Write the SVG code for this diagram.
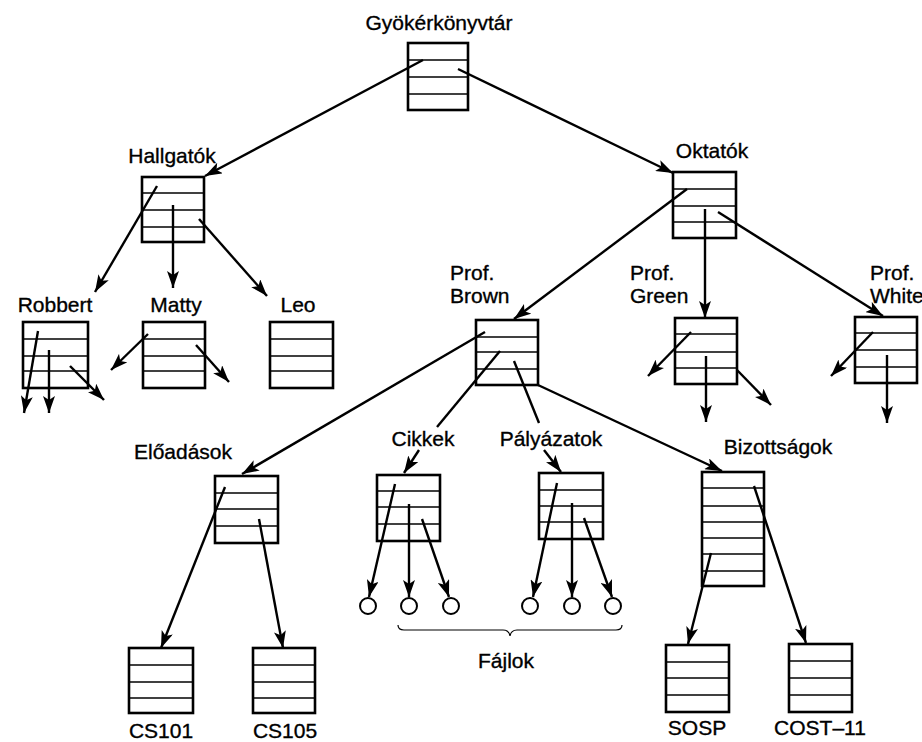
<svg xmlns="http://www.w3.org/2000/svg" width="922" height="742" viewBox="0 0 922 742">
  <style>
    .box { fill: #fff; stroke: #000; stroke-width: 2.6; }
    .row { stroke: #000; stroke-width: 1.5; }
    .edge { fill: none; stroke: #000; stroke-width: 2.4; }
    .file { fill: #fff; stroke: #000; stroke-width: 2; }
    .brace { fill: none; stroke: #000; stroke-width: 1.2; }
    text { font-family: "Liberation Sans", Arial, sans-serif; font-size: 21px; fill: #000; stroke: #000; stroke-width: 0.35; }
    .c { text-anchor: middle; }
  </style>
  <defs>
    <marker id="arrow" markerUnits="userSpaceOnUse" markerWidth="18" markerHeight="12" refX="17" refY="6" orient="auto">
      <path d="M0,0 L17,6 L0,12 L4,6 Z" fill="#000"/>
    </marker>
  </defs>

  <!-- directory nodes -->
  <g id="root">
    <rect class="box" x="408" y="43" width="60" height="67"/>
    <line class="row" x1="408" y1="60" x2="468" y2="60"/>
    <line class="row" x1="408" y1="77" x2="468" y2="77"/>
    <line class="row" x1="408" y1="94" x2="468" y2="94"/>
    <text class="c" x="439" y="30">Gyökérkönyvtár</text>
  </g>

  <g id="hallgatok">
    <rect class="box" x="142" y="177" width="62" height="65"/>
    <line class="row" x1="142" y1="193" x2="204" y2="193"/>
    <line class="row" x1="142" y1="210" x2="204" y2="210"/>
    <line class="row" x1="142" y1="227" x2="204" y2="227"/>
    <text class="c" x="172" y="163">Hallgatók</text>
  </g>

  <g id="robbert">
    <rect class="box" x="23" y="322" width="65" height="66"/>
    <line class="row" x1="23" y1="339" x2="88" y2="339"/>
    <line class="row" x1="23" y1="356" x2="88" y2="356"/>
    <line class="row" x1="23" y1="371" x2="88" y2="371"/>
    <text class="c" x="55" y="312">Robbert</text>
  </g>

  <g id="matty">
    <rect class="box" x="143" y="322" width="62" height="66"/>
    <line class="row" x1="143" y1="339" x2="205" y2="339"/>
    <line class="row" x1="143" y1="356" x2="205" y2="356"/>
    <line class="row" x1="143" y1="371" x2="205" y2="371"/>
    <text class="c" x="176" y="312">Matty</text>
  </g>

  <g id="leo">
    <rect class="box" x="270" y="322" width="63" height="66"/>
    <line class="row" x1="270" y1="339" x2="333" y2="339"/>
    <line class="row" x1="270" y1="356" x2="333" y2="356"/>
    <line class="row" x1="270" y1="371" x2="333" y2="371"/>
    <text class="c" x="298" y="312">Leo</text>
  </g>

  <g id="oktatok">
    <rect class="box" x="673" y="172" width="63" height="66"/>
    <line class="row" x1="673" y1="189" x2="736" y2="189"/>
    <line class="row" x1="673" y1="206" x2="736" y2="206"/>
    <line class="row" x1="673" y1="222" x2="736" y2="222"/>
    <text class="c" x="712" y="158">Oktatók</text>
  </g>

  <g id="prof-brown">
    <rect class="box" x="476" y="320" width="62" height="65"/>
    <line class="row" x1="476" y1="337" x2="538" y2="337"/>
    <line class="row" x1="476" y1="352" x2="538" y2="352"/>
    <line class="row" x1="476" y1="369" x2="538" y2="369"/>
    <text x="450" y="280">Prof.</text>
    <text x="450" y="303">Brown</text>
  </g>

  <g id="prof-green">
    <rect class="box" x="675" y="318" width="62" height="66"/>
    <line class="row" x1="675" y1="334" x2="737" y2="334"/>
    <line class="row" x1="675" y1="352" x2="737" y2="352"/>
    <line class="row" x1="675" y1="368" x2="737" y2="368"/>
    <text x="630" y="280">Prof.</text>
    <text x="630" y="303">Green</text>
  </g>

  <g id="prof-white">
    <rect class="box" x="855" y="317" width="62" height="66"/>
    <line class="row" x1="855" y1="333" x2="917" y2="333"/>
    <line class="row" x1="855" y1="350" x2="917" y2="350"/>
    <line class="row" x1="855" y1="367" x2="917" y2="367"/>
    <text x="870" y="280">Prof.</text>
    <text x="870" y="303">White</text>
  </g>

  <g id="eloadasok">
    <rect class="box" x="215" y="476" width="63" height="67"/>
    <line class="row" x1="215" y1="493" x2="278" y2="493"/>
    <line class="row" x1="215" y1="509" x2="278" y2="509"/>
    <line class="row" x1="215" y1="526" x2="278" y2="526"/>
    <text class="c" x="183" y="459">Előadások</text>
  </g>

  <g id="cikkek">
    <rect class="box" x="377" y="475" width="63" height="66"/>
    <line class="row" x1="377" y1="491" x2="440" y2="491"/>
    <line class="row" x1="377" y1="507" x2="440" y2="507"/>
    <line class="row" x1="377" y1="524" x2="440" y2="524"/>
    <text class="c" x="423" y="446">Cikkek</text>
  </g>

  <g id="palyazatok">
    <rect class="box" x="539" y="473" width="64" height="66"/>
    <line class="row" x1="539" y1="490" x2="603" y2="490"/>
    <line class="row" x1="539" y1="506" x2="603" y2="506"/>
    <line class="row" x1="539" y1="522" x2="603" y2="522"/>
    <text class="c" x="551" y="446">Pályázatok</text>
  </g>

  <g id="bizottsagok">
    <rect class="box" x="702" y="472" width="62" height="114"/>
    <line class="row" x1="702" y1="488" x2="764" y2="488"/>
    <line class="row" x1="702" y1="506" x2="764" y2="506"/>
    <line class="row" x1="702" y1="522" x2="764" y2="522"/>
    <line class="row" x1="702" y1="538" x2="764" y2="538"/>
    <line class="row" x1="702" y1="554" x2="764" y2="554"/>
    <line class="row" x1="702" y1="571" x2="764" y2="571"/>
    <text class="c" x="778" y="454">Bizottságok</text>
  </g>

  <g id="cs101">
    <rect class="box" x="129" y="648" width="64" height="65"/>
    <line class="row" x1="129" y1="665" x2="193" y2="665"/>
    <line class="row" x1="129" y1="682" x2="193" y2="682"/>
    <line class="row" x1="129" y1="698" x2="193" y2="698"/>
    <text class="c" x="161" y="738">CS101</text>
  </g>

  <g id="cs105">
    <rect class="box" x="253" y="648" width="62" height="65"/>
    <line class="row" x1="253" y1="665" x2="315" y2="665"/>
    <line class="row" x1="253" y1="682" x2="315" y2="682"/>
    <line class="row" x1="253" y1="698" x2="315" y2="698"/>
    <text class="c" x="285" y="738">CS105</text>
  </g>

  <g id="sosp">
    <rect class="box" x="666" y="645" width="63" height="67"/>
    <line class="row" x1="666" y1="662" x2="729" y2="662"/>
    <line class="row" x1="666" y1="678" x2="729" y2="678"/>
    <line class="row" x1="666" y1="695" x2="729" y2="695"/>
    <text class="c" x="697" y="735">SOSP</text>
  </g>

  <g id="cost-11">
    <rect class="box" x="789" y="644" width="63" height="68"/>
    <line class="row" x1="789" y1="661" x2="852" y2="661"/>
    <line class="row" x1="789" y1="678" x2="852" y2="678"/>
    <line class="row" x1="789" y1="695" x2="852" y2="695"/>
    <text class="c" x="820" y="735">COST–11</text>
  </g>

  <!-- file nodes -->
  <g id="files">
    <circle class="file" cx="368" cy="606" r="8"/>
    <circle class="file" cx="409" cy="606" r="8"/>
    <circle class="file" cx="451" cy="606" r="8"/>
    <circle class="file" cx="530" cy="606" r="8"/>
    <circle class="file" cx="572" cy="606" r="8"/>
    <circle class="file" cx="613" cy="606" r="8"/>
    <path class="brace" d="M398,625 Q398,630 404,630 L503,630 Q509,630 510,636 Q511,630 517,630 L616,630 Q622,630 622,625"/>
    <text class="c" x="506" y="668">Fájlok</text>
  </g>

  <!-- connectors -->
  <g id="connectors">
    <path class="edge" marker-end="url(#arrow)" d="M423,60 L205,176"/>
    <path class="edge" marker-end="url(#arrow)" d="M458,69 L673,173"/>

    <path class="edge" marker-end="url(#arrow)" d="M157,186 L95,292"/>
    <path class="edge" marker-end="url(#arrow)" d="M173,205 L173,288"/>
    <path class="edge" marker-end="url(#arrow)" d="M199,219 L267,296"/>

    <path class="edge" marker-end="url(#arrow)" d="M38,331 L24,413"/>
    <path class="edge" marker-end="url(#arrow)" d="M49,350 L49,413"/>
    <path class="edge" marker-end="url(#arrow)" d="M70,366 L104,400"/>

    <path class="edge" marker-end="url(#arrow)" d="M148,334 L111,370"/>
    <path class="edge" marker-end="url(#arrow)" d="M196,345 L229,382"/>

    <path class="edge" marker-end="url(#arrow)" d="M687,189 L514,319"/>
    <path class="edge" marker-end="url(#arrow)" d="M705,209 L705,318"/>
    <path class="edge" marker-end="url(#arrow)" d="M718,212 L883,316"/>

    <path class="edge" marker-end="url(#arrow)" d="M691,332 L648,376"/>
    <path class="edge" marker-end="url(#arrow)" d="M706,356 L706,422"/>
    <path class="edge" marker-end="url(#arrow)" d="M737,370 L771,405"/>

    <path class="edge" marker-end="url(#arrow)" d="M873,332 L831,376"/>
    <path class="edge" marker-end="url(#arrow)" d="M887,355 L887,423"/>

    <path class="edge" marker-end="url(#arrow)" d="M485,332 L242,474"/>
    <path class="edge" d="M500,351 L437,427"/>
    <path class="edge" marker-end="url(#arrow)" d="M419,450 L404,473"/>
    <path class="edge" d="M514,361 L539,423"/>
    <path class="edge" marker-end="url(#arrow)" d="M544,450 L561,472"/>
    <path class="edge" marker-end="url(#arrow)" d="M538,385 L722,471"/>

    <path class="edge" marker-end="url(#arrow)" d="M225,487 L161,648"/>
    <path class="edge" marker-end="url(#arrow)" d="M259,519 L283,648"/>

    <path class="edge" marker-end="url(#arrow)" d="M395,484 L369,597"/>
    <path class="edge" marker-end="url(#arrow)" d="M409,504 L409,597"/>
    <path class="edge" marker-end="url(#arrow)" d="M422,519 L449,597"/>

    <path class="edge" marker-end="url(#arrow)" d="M557,483 L533,597"/>
    <path class="edge" marker-end="url(#arrow)" d="M572,503 L572,597"/>
    <path class="edge" marker-end="url(#arrow)" d="M584,518 L612,597"/>

    <path class="edge" marker-end="url(#arrow)" d="M754,486 L806,643"/>
    <path class="edge" marker-end="url(#arrow)" d="M711,553 L688,644"/>
  </g>
</svg>
